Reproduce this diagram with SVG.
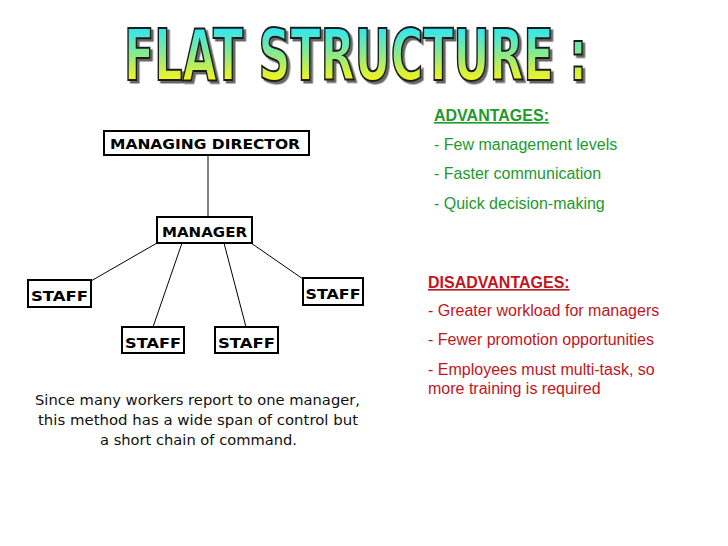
<svg xmlns="http://www.w3.org/2000/svg" width="728" height="546" viewBox="0 0 728 546">
<defs>
<linearGradient id="tg" gradientUnits="userSpaceOnUse" x1="0" y1="28" x2="0" y2="80">
<stop offset="0" stop-color="#2ee6f2"/>
<stop offset="0.5" stop-color="#8aea8c"/>
<stop offset="1" stop-color="#f4f41c"/>
</linearGradient>
<filter id="sh" filterUnits="userSpaceOnUse" x="100" y="5" width="510" height="95">
<feDropShadow dx="2.5" dy="2.5" stdDeviation="0.4" flood-color="#555" flood-opacity="0.9"/>
</filter>
</defs>
<style>
.box{fill:#fff;stroke:#000;stroke-width:2}
.lbl{font-family:"DejaVu Sans","Liberation Sans",sans-serif;font-weight:bold;font-size:14px;fill:#000}
.con{stroke:#000;stroke-width:1;fill:none}
.title{font-family:"Liberation Sans Narrow","DejaVu Sans Condensed","Liberation Sans",sans-serif;font-weight:bold;font-size:72px}
.adv{font-family:"Liberation Sans",Arial,sans-serif;font-size:16px;fill:#219a2c}
.dis{font-family:"Liberation Sans",Arial,sans-serif;font-size:16px;fill:#c4141c}
.h{font-weight:bold;text-decoration:underline}
.cap{font-family:"DejaVu Sans","Open Sans",sans-serif;font-size:14.5px;fill:#111}
</style>
<rect width="728" height="546" fill="#fff"/>
<g id="title">
<text class="title" x="124" y="80" textLength="463" lengthAdjust="spacingAndGlyphs" fill="url(#tg)" stroke="#1a1a1a" stroke-width="2" filter="url(#sh)">FLAT STRUCTURE :</text>
</g>
<g id="connectors">
<line class="con" x1="208" y1="155" x2="208" y2="217"/>
<line class="con" x1="157" y1="243" x2="91" y2="281"/>
<line class="con" x1="182" y1="243" x2="153" y2="327"/>
<line class="con" x1="224" y1="243" x2="246" y2="327"/>
<line class="con" x1="251" y1="243" x2="303" y2="279"/>
</g>
<g id="md">
<rect class="box" x="104" y="131" width="205" height="24"/>
<text class="lbl" x="110" y="148.5" textLength="190" lengthAdjust="spacingAndGlyphs">MANAGING DIRECTOR</text>
</g>
<g id="manager">
<rect class="box" x="157" y="217" width="95" height="26"/>
<text class="lbl" x="162" y="237" textLength="85" lengthAdjust="spacingAndGlyphs">MANAGER</text>
</g>
<g id="staff1">
<rect class="box" x="28" y="280" width="63" height="27"/>
<text class="lbl" x="31" y="301" textLength="57" lengthAdjust="spacingAndGlyphs">STAFF</text>
</g>
<g id="staff2">
<rect class="box" x="122" y="327" width="62" height="26"/>
<text class="lbl" x="125" y="347.5" textLength="56" lengthAdjust="spacingAndGlyphs">STAFF</text>
</g>
<g id="staff3">
<rect class="box" x="215" y="327" width="63" height="26"/>
<text class="lbl" x="218" y="347.5" textLength="57" lengthAdjust="spacingAndGlyphs">STAFF</text>
</g>
<g id="staff4">
<rect class="box" x="303" y="278" width="60" height="27"/>
<text class="lbl" x="305.5" y="299" textLength="55" lengthAdjust="spacingAndGlyphs">STAFF</text>
</g>
<g id="advantages">
<text class="adv h" x="434" y="121">ADVANTAGES:</text>
<text class="adv" x="434" y="150">- Few management levels</text>
<text class="adv" x="434" y="179">- Faster communication</text>
<text class="adv" x="434" y="209">- Quick decision-making</text>
</g>
<g id="disadvantages">
<text class="dis h" x="428" y="288">DISADVANTAGES:</text>
<text class="dis" x="428" y="316">- Greater workload for managers</text>
<text class="dis" x="428" y="345">- Fewer promotion opportunities</text>
<text class="dis" x="428" y="375">- Employees must multi-task, so</text>
<text class="dis" x="428" y="394">more training is required</text>
</g>
<g id="caption">
<text class="cap" x="35" y="405" textLength="325" lengthAdjust="spacingAndGlyphs">Since many workers report to one manager,</text>
<text class="cap" x="38" y="425" textLength="320" lengthAdjust="spacingAndGlyphs">this method has a wide span of control but</text>
<text class="cap" x="100" y="445" textLength="197" lengthAdjust="spacingAndGlyphs">a short chain of command.</text>
</g>
</svg>
